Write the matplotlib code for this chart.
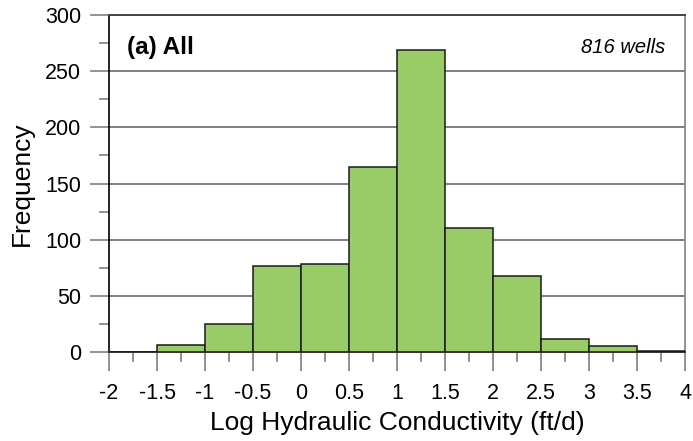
import numpy as np
import matplotlib.pyplot as plt
from matplotlib.ticker import MultipleLocator

plt.rcParams['font.family'] = ['Liberation Sans', 'DejaVu Sans']

# histogram of log hydraulic conductivity, bin left edges and counts
bin_left = [-2.0, -1.5, -1.0, -0.5, 0.0, 0.5, 1.0, 1.5, 2.0, 2.5, 3.0, 3.5]
counts = [0, 6, 25, 77, 78, 165, 269, 110, 68, 12, 5, 1]
bin_width = 0.5
xtick_labels = ['-2', '-1.5', '-1', '-0.5', '0', '0.5', '1', '1.5', '2', '2.5', '3', '3.5', '4']

fig = plt.figure(figsize=(6.93, 4.41), dpi=100)
ax = fig.add_axes([0.1573, 0.2018, 0.8312, 0.7642])

ax.bar(bin_left, counts, width=bin_width, align='edge',
       color='#99CC66', edgecolor='#1a1a1a', linewidth=1.1, zorder=3)

ax.set_xlim(-2, 4)
ax.set_ylim(0, 300)

ax.xaxis.set_major_locator(MultipleLocator(0.5))
ax.xaxis.set_minor_locator(MultipleLocator(0.25))
ax.yaxis.set_major_locator(MultipleLocator(50))
ax.yaxis.set_minor_locator(MultipleLocator(25))
ax.set_xticks(np.arange(-2, 4.01, 0.5))
ax.set_xticklabels(xtick_labels)

ax.grid(axis='y', which='major', color='#808080', linewidth=1.4, zorder=1)
ax.tick_params(axis='both', which='major', length=14, width=1.2,
               color='#808080', labelsize=15.5)
ax.tick_params(axis='both', which='minor', length=7, width=1.2, color='#808080')
ax.tick_params(axis='x', which='major', pad=8)
ax.tick_params(axis='y', which='major', pad=6)

ax.spines['left'].set_color('black')
ax.spines['left'].set_linewidth(1.2)
ax.spines['bottom'].set_color('#333333')
ax.spines['bottom'].set_linewidth(1.4)
ax.spines['top'].set_color('#444444')
ax.spines['top'].set_linewidth(1.4)
ax.spines['right'].set_color('#808080')
ax.spines['right'].set_linewidth(1.2)

ax.set_xlabel('Log Hydraulic Conductivity (ft/d)', fontsize=19, labelpad=5)
ax.set_ylabel('Frequency', fontsize=19, labelpad=8)

ax.text(0.031, 0.905, '(a) All', transform=ax.transAxes, fontsize=17.5,
        fontweight='bold', va='center', ha='left')
ax.text(0.965, 0.905, '816 wells', transform=ax.transAxes, fontsize=14.5,
        style='italic', va='center', ha='right')

fig.savefig('out.png', dpi=100)
